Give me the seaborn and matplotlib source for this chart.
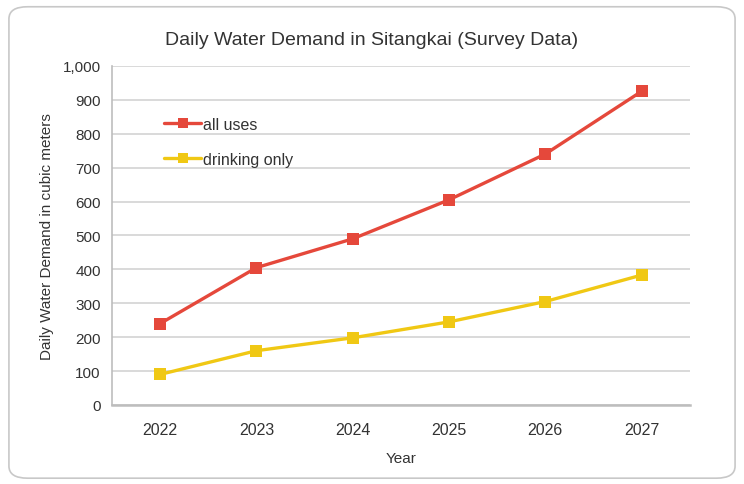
import matplotlib
matplotlib.use("Agg")
import matplotlib.pyplot as plt
import seaborn as sns
import pandas as pd
from matplotlib.patches import FancyBboxPatch
from matplotlib.ticker import FuncFormatter

# ---------- DATA ----------
years = [2022, 2023, 2024, 2025, 2026, 2027]
all_uses = [240, 405, 490, 605, 740, 925]
drinking_only = [90, 160, 198, 245, 305, 383]
series_names = ["all uses", "drinking only"]
colors = ["#e5483b", "#f0c814"]

df = pd.DataFrame({
    "Year": years * 2,
    "Demand": all_uses + drinking_only,
    "Series": [series_names[0]] * len(years) + [series_names[1]] * len(years),
})

# ---------- PLOT ----------
sns.set_style("white")
plt.rcParams["font.family"] = ["Liberation Sans", "DejaVu Sans"]

fig = plt.figure(figsize=(7.44, 4.85), dpi=100)
ax = fig.add_axes([0.1505, 0.163, 0.7765, 0.699])

# rounded frame around the whole chart
frame = FancyBboxPatch((0.012, 0.012), 0.976, 0.972,
                       boxstyle="round,pad=0,rounding_size=0.025",
                       transform=fig.transFigure, facecolor="none",
                       edgecolor="#c8c8c8", linewidth=1.2)
fig.patches.append(frame)

sns.lineplot(data=df, x="Year", y="Demand", hue="Series", style="Series",
             markers=["s", "s"], dashes=False, palette=colors,
             linewidth=2.4, markersize=8, markeredgewidth=0, ax=ax)

ax.set_xlim(2021.5, 2027.5)
ax.set_ylim(0, 1000)
ax.set_xticks(years)
ax.set_yticks(range(0, 1001, 100))
ax.yaxis.set_major_formatter(FuncFormatter(lambda v, p: f"{int(v):,}"))
ax.grid(axis="y", color="#d0d0d0", linewidth=1.1)
ax.set_axisbelow(True)

for s in ["top", "right"]:
    ax.spines[s].set_visible(False)
ax.spines["left"].set_color("#bdbdbd")
ax.spines["bottom"].set_color("#bdbdbd")
ax.spines["left"].set_linewidth(1.2)
ax.spines["bottom"].set_linewidth(1.8)

ax.tick_params(axis="x", length=0, labelsize=11.5, colors="#333333", pad=12)
ax.tick_params(axis="y", length=0, labelsize=11, colors="#333333", pad=8)
ax.set_xlabel("Year", fontsize=11, color="#333333", labelpad=10)
ax.set_ylabel("Daily Water Demand in cubic meters", fontsize=11, color="#333333", labelpad=6)
fig.text(0.5, 0.917, "Daily Water Demand in Sitangkai (Survey Data)",
         ha="center", va="center", fontsize=14, color="#333333")

leg = ax.legend(loc="upper left", bbox_to_anchor=(0.066, 0.892), frameon=False,
                fontsize=11.5, handlelength=2.3, handletextpad=0.1,
                labelspacing=1.25, markerscale=0.9)
for t in leg.get_texts():
    t.set_color("#333333")

fig.savefig("out.png", dpi=100)
